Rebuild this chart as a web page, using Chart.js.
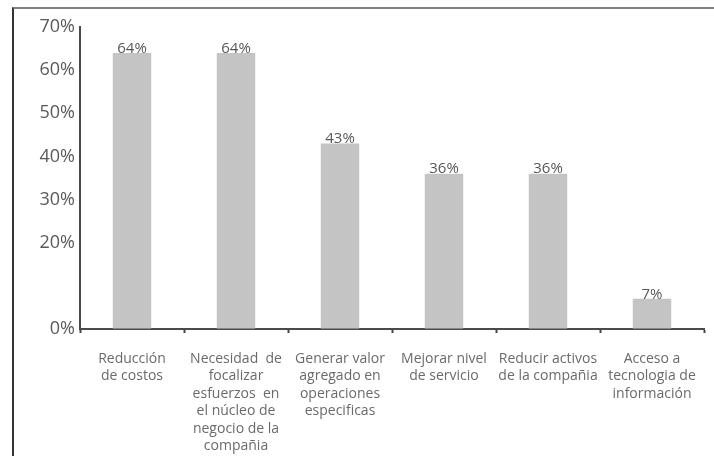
<!DOCTYPE html>
<html>
<head>
<meta charset="utf-8">
<script src="https://cdn.jsdelivr.net/npm/chart.js@4/dist/chart.umd.min.js"></script>
<style>
    html, body { margin: 0; padding: 0; background: #fff; overflow: hidden; }
    #wrap { position: relative; width: 714px; height: 456px; }
    #frame {
        position: absolute; left: 12px; top: 7px; width: 740px; height: 480px;
        border-left: 2px solid #333; border-top: 2px solid #808080;
    }
    #chart { position: absolute; left: 0; top: 0; }
</style>
</head>
<body>
<div id="wrap">
    <div id="frame"></div>
    <canvas id="chart" width="714" height="456"></canvas>
</div>
<script>
// ========================================
// MOTIVOS DE TERCERIZACIÓN - BAR CHART
// ========================================

const categories = [
    ["Reducción", "de costos"],
    ["Necesidad  de", "focalizar", "esfuerzos  en", "el núcleo de", "negocio de la", "compañia"],
    ["Generar valor", "agregado en", "operaciones", "especificas"],
    ["Mejorar nivel", "de servicio"],
    ["Reducir activos", "de la compañia"],
    ["Acceso a", "tecnologia de", "información"]
];
const percentages = [64, 64, 43, 36, 36, 7];
const yTicks = [0, 20, 30, 40, 50, 60, 70];

const FONT = "'Open Sans', 'DejaVu Sans', sans-serif";

// Writes the percentage just above each bar
const valueLabels = {
    id: "valueLabels",
    afterDatasetsDraw(chart) {
        const ctx = chart.ctx;
        const meta = chart.getDatasetMeta(0);
        ctx.save();
        ctx.font = "15px " + FONT;
        ctx.fillStyle = "#585858";
        ctx.textAlign = "center";
        ctx.textBaseline = "bottom";
        meta.data.forEach((bar, i) => {
            ctx.fillText(percentages[i] + "%", bar.x, bar.y + 3);
        });
        ctx.restore();
    }
};

const ctx = document.getElementById("chart").getContext("2d");

new Chart(ctx, {
    type: "bar",
    data: {
        labels: categories,
        datasets: [{
            data: percentages,
            backgroundColor: "#c4c4c4",
            borderWidth: 0,
            categoryPercentage: 1,
            barPercentage: 0.37
        }]
    },
    options: {
        responsive: false,
        animation: false,
        layout: { padding: { left: 0, right: 10, top: 27, bottom: 0 } },
        plugins: {
            legend: { display: false },
            tooltip: { enabled: false }
        },
        scales: {
            x: {
                grid: {
                    display: true,
                    drawOnChartArea: false,
                    drawTicks: true,
                    tickLength: 4,
                    tickColor: "#444",
                    tickWidth: 2
                },
                border: { color: "#4a4a4a", width: 2 },
                ticks: {
                    color: "#6a6a6a",
                    padding: 17,
                    maxRotation: 0,
                    autoSkip: false,
                    font: { family: FONT, size: 14, lineHeight: 1.25 }
                },
                afterFit(scale) { scale.height = 127; }
            },
            y: {
                min: 0,
                max: 70,
                grid: { display: true, drawOnChartArea: false, drawTicks: false },
                border: { color: "#4a4a4a", width: 2 },
                afterBuildTicks(scale) {
                    scale.ticks = yTicks.map(v => ({ value: v }));
                },
                ticks: {
                    color: "#5a5a5a",
                    padding: 5,
                    font: { family: FONT, size: 18 },
                    callback: (v) => v + "%"
                },
                afterFit(scale) { scale.width = 80; }
            }
        }
    },
    plugins: [valueLabels]
});
</script>
</body>
</html>
